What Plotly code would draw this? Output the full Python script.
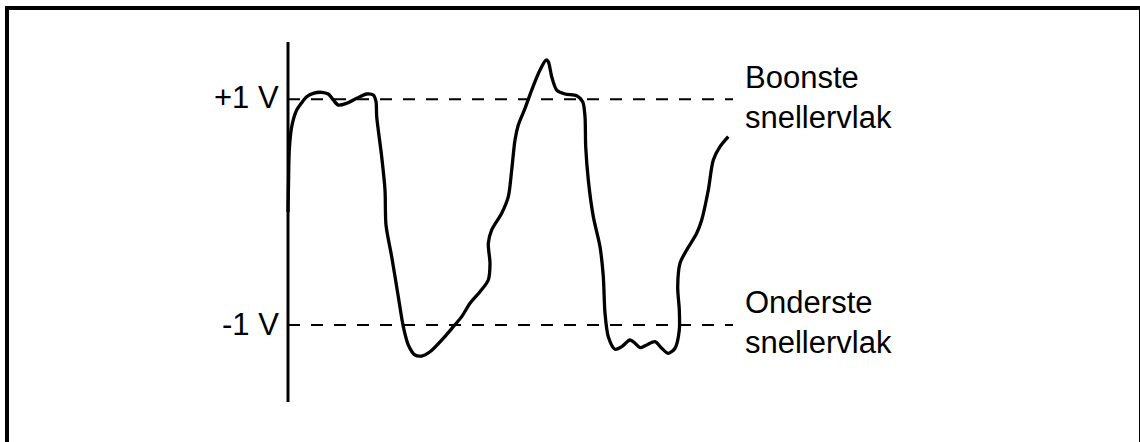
import plotly.graph_objects as go

# time (arbitrary units, 0 = vertical axis) and signal (volts)
t = [0, 0.5, 1.3, 3.7, 8.7, 13.7, 18.7, 25.3, 33.7, 40.3, 45.3, 50.3, 58.7, 68.7, 78.7, 85.3,
     88, 88.7, 93.7, 97, 98, 103.7, 110.3, 115.3, 120.3, 127, 133.7, 142, 155.3, 165.3, 173.7,
     182, 192, 200.3, 202, 200.3, 203.7, 213.7, 220.3, 223.7, 227, 230.3, 237, 243.7, 252, 258,
     260.3, 263.7, 268.7, 277, 288.7, 294.7, 297, 297.7, 300.3, 305.3, 312, 315.3, 317, 320.3,
     327, 333.7, 342, 347, 352, 358.7, 367, 373.7, 380.3, 387, 391.3, 391.3, 389.7, 392, 398.7,
     408.7, 413.7, 420.3, 425.3, 432, 440.3]
volts = [0.0, 0.241, 0.551, 0.757, 0.905, 0.970, 1.023, 1.053, 1.062, 1.047, 0.994, 0.949, 0.965,
         1.009, 1.047, 1.038, 0.979, 0.846, 0.491, 0.196, -0.114, -0.395, -0.749, -1.015, -1.177,
         -1.266, -1.275, -1.237, -1.118, -1.015, -0.926, -0.808, -0.705, -0.601, -0.453, -0.276,
         -0.158, -0.010, 0.137, 0.373, 0.639, 0.772, 0.920, 1.082, 1.259, 1.348, 1.333, 1.200,
         1.082, 1.047, 1.032, 0.979, 0.846, 0.580, 0.285, -0.040, -0.306, -0.572, -0.896, -1.104,
         -1.215, -1.192, -1.133, -1.162, -1.201, -1.177, -1.148, -1.206, -1.251, -1.206, -1.044,
         -0.867, -0.661, -0.453, -0.335, -0.187, -0.070, 0.196, 0.462, 0.580, 0.669]

levels = [1, -1]
level_labels = ["+1 V", "-1 V"]
level_names = ["Boonste<br>snellervlak", "Onderste<br>snellervlak"]
level_end = 445
axis_top = 1.508
axis_bottom = -1.682
name_x = 455

FONT = "Liberation Sans, Arial, sans-serif"

fig = go.Figure()

# dashed threshold levels
for lv in levels:
    fig.add_trace(go.Scatter(x=[0, level_end], y=[lv, lv], mode="lines",
                             line=dict(color="black", width=2, dash="12px,11px"),
                             hoverinfo="skip", showlegend=False))

# vertical axis
fig.add_trace(go.Scatter(x=[0, 0], y=[axis_bottom, axis_top], mode="lines",
                         line=dict(color="black", width=3), hoverinfo="skip", showlegend=False))

# signal
fig.add_trace(go.Scatter(x=t, y=volts, mode="lines",
                         line=dict(color="black", width=3.3, shape="spline", smoothing=0.8),
                         hoverinfo="skip", showlegend=False))

for lv, lab, name in zip(levels, level_labels, level_names):
    fig.add_annotation(x=0, y=lv, text=lab, showarrow=False, xanchor="right", yanchor="middle",
                       xshift=-7, yshift=2 if lv > 0 else 0,
                       font=dict(family=FONT, size=31, color="black"))
    fig.add_annotation(x=name_x, y=lv, text=name, showarrow=False, xanchor="left",
                       yanchor="middle", align="left", yshift=2,
                       font=dict(family=FONT, size=31, color="black"))

# frame (left, top, right)
W, H = 1140, 442
fig.add_shape(type="path", xref="paper", yref="paper",
              path=f"M {7/W} -0.1 L {7/W} {1-8/H} L {1141/W} {1-8/H} L {1141/W} -0.1",
              line=dict(color="black", width=4))

fig.update_layout(
    width=W, height=H, margin=dict(l=0, r=0, t=0, b=0),
    paper_bgcolor="white", plot_bgcolor="white",
    xaxis=dict(range=[-288, 852], visible=False, fixedrange=True),
    yaxis=dict(range=[-2.037, 1.880], visible=False, fixedrange=True),
    showlegend=False,
)

fig.write_html("out.html", config={"displayModeBar": False, "staticPlot": True},
               post_script="document.body.style.margin='0';document.body.style.overflow='hidden';")
